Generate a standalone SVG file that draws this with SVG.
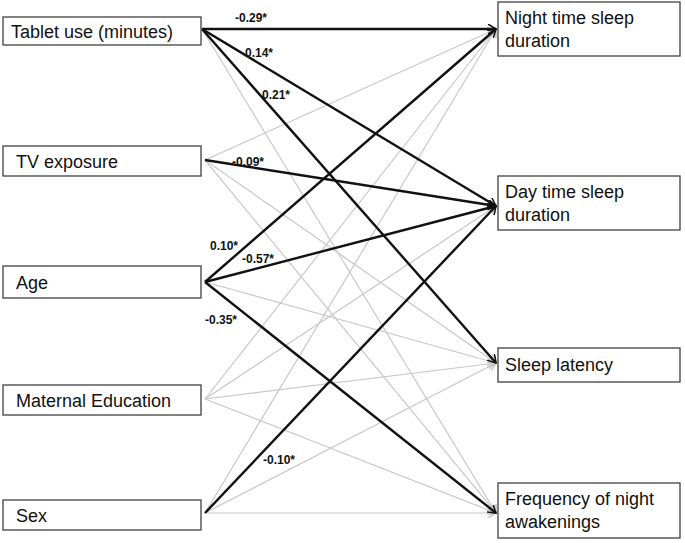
<svg xmlns="http://www.w3.org/2000/svg" width="685" height="543" viewBox="0 0 685 543">
<style>
.box{fill:#fff;stroke:#404040;stroke-width:1.3}
.t{font-family:"Liberation Sans",Arial,sans-serif;font-size:18px;fill:#111}
.l{font-family:"Liberation Sans",Arial,sans-serif;font-size:12px;font-weight:bold;fill:#111}
.g{stroke:#c8c8c8;stroke-width:1.2;fill:none;marker-end:url(#ag)}
.b{stroke:#111;stroke-width:2.4;fill:none;marker-end:url(#ab)}
</style>
<defs>
<marker id="ab" markerWidth="10" markerHeight="10" refX="8" refY="5" orient="auto" markerUnits="userSpaceOnUse"><path d="M0,0 L8,5 L0,10" fill="none" stroke="#111" stroke-width="1.5"/></marker>
<marker id="ag" markerWidth="10" markerHeight="10" refX="8" refY="5" orient="auto" markerUnits="userSpaceOnUse"><path d="M0,0 L8,5 L0,10" fill="none" stroke="#c8c8c8" stroke-width="1.5"/></marker>
</defs>
<g id="connectors">
<path class="g" d="M202,29 L496,363"/>
<path class="g" d="M202,29 L496,513"/>
<path class="g" d="M205,160 L496,29"/>
<path class="g" d="M205,160 L496,363"/>
<path class="g" d="M205,160 L496,513"/>
<path class="g" d="M205,282 L496,363"/>
<path class="g" d="M205,399 L496,29"/>
<path class="g" d="M205,399 L496,206"/>
<path class="g" d="M205,399 L496,363"/>
<path class="g" d="M205,399 L496,513"/>
<path class="g" d="M205,513 L496,29"/>
<path class="g" d="M205,513 L496,363"/>
<path class="g" d="M205,513 L496,513"/>
<path class="b" d="M202,29 L496,29"/>
<path class="b" d="M202,29 L496,206"/>
<path class="b" d="M202,29 L496,363"/>
<path class="b" d="M205,160 L496,206"/>
<path class="b" d="M205,282 L496,29"/>
<path class="b" d="M205,282 L496,206"/>
<path class="b" d="M205,282 L496,513"/>
<path class="b" d="M205,513 L496,206"/>
<text class="l" x="235" y="22">-0.29*</text>
<text class="l" x="245" y="57">0.14*</text>
<text class="l" x="262" y="99">0.21*</text>
<text class="l" x="232" y="166">-0.09*</text>
<text class="l" x="210" y="250">0.10*</text>
<text class="l" x="242" y="263">-0.57*</text>
<text class="l" x="205" y="324">-0.35*</text>
<text class="l" x="263" y="464">-0.10*</text>
</g>
<g id="tablet"><rect class="box" x="3" y="17" width="198" height="28"/><text class="t" x="11" y="38">Tablet use (minutes)</text></g>
<g id="tv"><rect class="box" x="3" y="146" width="198" height="30"/><text class="t" x="16" y="168">TV exposure</text></g>
<g id="age"><rect class="box" x="3" y="266" width="198" height="32"/><text class="t" x="16" y="289">Age</text></g>
<g id="maternal"><rect class="box" x="3" y="385" width="198" height="30"/><text class="t" x="16" y="407">Maternal Education</text></g>
<g id="sex"><rect class="box" x="3" y="500" width="198" height="30"/><text class="t" x="16" y="522">Sex</text></g>
<g id="night"><rect class="box" x="498" y="2" width="182" height="54"/><text class="t" x="505" y="24">Night time sleep</text><text class="t" x="505" y="47">duration</text></g>
<g id="day"><rect class="box" x="498" y="176" width="182" height="54"/><text class="t" x="505" y="198">Day time sleep</text><text class="t" x="505" y="221">duration</text></g>
<g id="latency"><rect class="box" x="498" y="348" width="182" height="34"/><text class="t" x="505" y="371">Sleep latency</text></g>
<g id="freq"><rect class="box" x="498" y="483" width="182" height="55"/><text class="t" x="505" y="505">Frequency of night</text><text class="t" x="505" y="528">awakenings</text></g>
</svg>
